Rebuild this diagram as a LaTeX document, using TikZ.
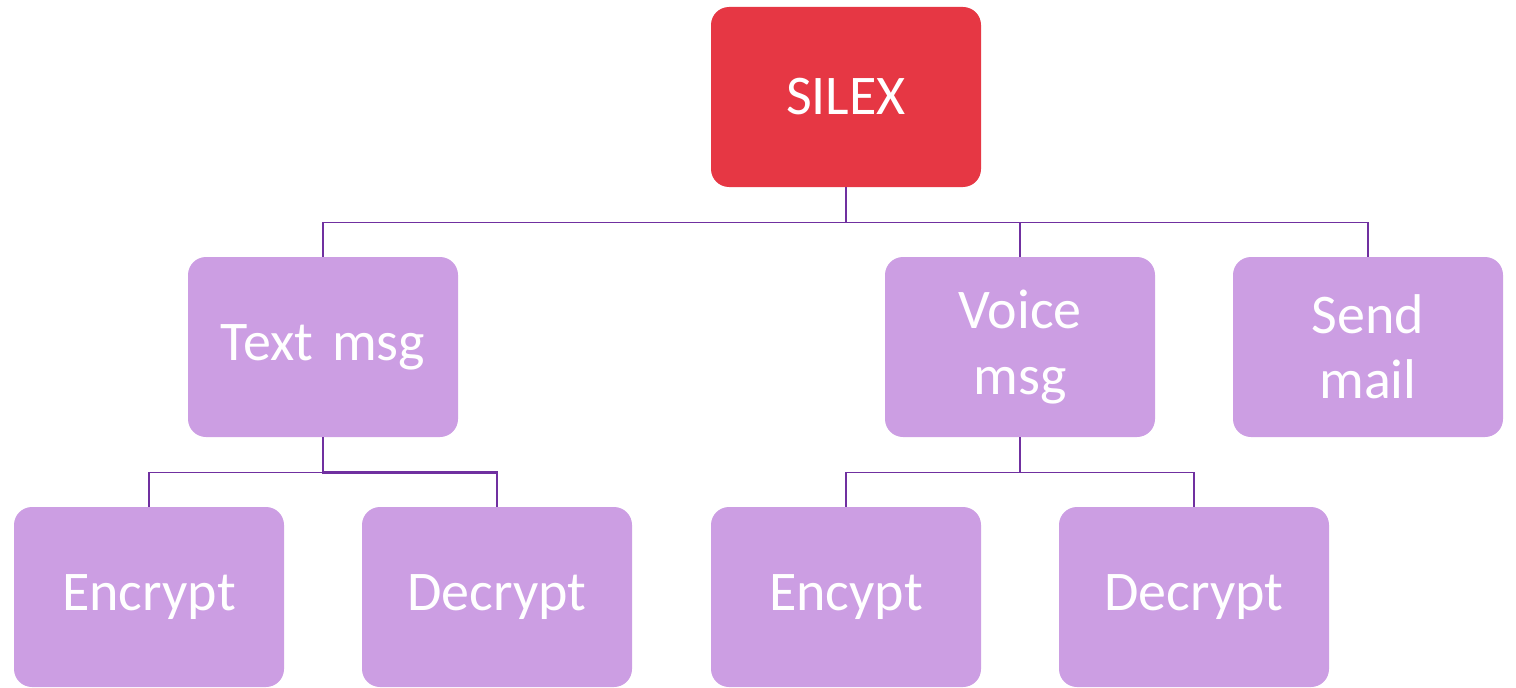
\documentclass[tikz,border=0pt]{standalone}
\usepackage{fontspec}
\setmainfont{Carlito}
\usepackage{tikz}
\usetikzlibrary{shapes,arrows}
\definecolor{silexred}{HTML}{E63744}
\definecolor{lilac}{HTML}{CC9EE3}
\definecolor{branch}{HTML}{7030A0}
\tikzstyle{root} = [rectangle, fill=silexred, text=white, text width=180pt,
    align=center, rounded corners=13.5pt, minimum width=202.5pt,
    minimum height=135pt, font=\fontsize{42}{49}\selectfont]
\tikzstyle{item} = [root, fill=lilac]
\tikzstyle{line} = [draw, branch, line width=1.1pt]
\tikzstyle{boldline} = [line, line width=2.2pt]

\begin{document}
\begin{tikzpicture}[x=0.75pt, y=0.75pt, node distance=187.5pt]
    \useasboundingbox (0,0) rectangle (1516,687);
    % Place nodes
    \node [root] (silex) at (846,590) {SILEX};
    \node [item, below of=silex, xshift=-392.25pt] (textmsg) {Text msg};
    \node [item, below of=silex, xshift=130.5pt] (voicemsg) {Voice\\msg};
    \node [item, right of=voicemsg, node distance=261pt] (sendmail) {Send\\mail};

    \node [item, below of=textmsg, xshift=-130.5pt] (encA) {Encrypt};
    \node [item, right of=encA, node distance=261pt] (decA) {Decrypt};
    \node [item, below of=voicemsg, xshift=-130.5pt] (encB) {Encypt};
    \node [item, right of=encB, node distance=261pt] (decB) {Decrypt};

    % Draw edges
    % Top level
    \path [line] (silex.south) -- ++(0,-35) -| (textmsg.north);
    \path [line] (silex.south) -- ++(0,-35) -| (voicemsg.north);
    \path [line] (silex.south) -- ++(0,-35) -| (sendmail.north);

    % Text msg
    \path [line] (textmsg.south) -- ++(0,-35) -| (encA.north);
    \path [boldline] (textmsg.south) -- ++(0,-35) -| (decA.north);

    % Voice msg
    \path [line] (voicemsg.south) -- ++(0,-35) -| (encB.north);
    \path [line] (voicemsg.south) -- ++(0,-35) -| (decB.north);

\end{tikzpicture}
\end{document}
